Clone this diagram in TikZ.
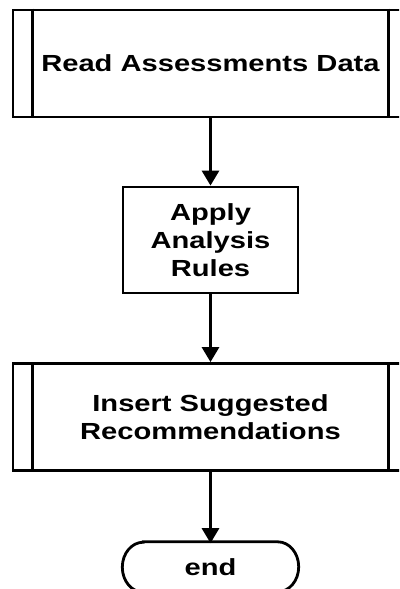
\documentclass[tikz,border=0pt]{standalone}
\usepackage{fontspec}
\usetikzlibrary{arrows.meta}
\newfontfamily\lblfont{Liberation Sans}[FakeStretch=1.25]
\tikzset{
  flow/.style={line width=2.8pt, black},
  lbl/.style={font=\lblfont\bfseries\fontsize{23.3}{28}\selectfont, align=center, inner sep=0pt},
  procbox/.style={flow, draw, lbl, minimum width=395pt, minimum height=107pt},
  stepbox/.style={flow, draw, lbl, minimum width=175pt, minimum height=106pt},
  termbox/.style={lbl, minimum width=176pt, minimum height=50pt},
  link/.style={flow, -{Triangle[width=17pt,length=15pt]}},
}
\begin{document}
\begin{tikzpicture}[x=1pt,y=-1pt]
  \useasboundingbox (0,0) rectangle (399,589);
  \clip (0,0) rectangle (399,589);
  \fill[white] (0,0) rectangle (399,589);

  % predefined process: read data
  \node[procbox] (read) at (210.5,63.5) {Read Assessments Data};
  \draw[flow] ([xshift=21pt]read.north west) -- ([xshift=21pt]read.south west);
  \draw[flow] ([xshift=-21pt]read.north east) -- ([xshift=-21pt]read.south east);

  % plain process step
  \node[stepbox] (apply) at (210.5,240) {Apply\\Analysis\\Rules};

  % predefined process: insert recommendations
  \node[procbox] (insert) at (210.5,417) {Insert Suggested\\Recommendations};
  \draw[flow] ([xshift=21pt]insert.north west) -- ([xshift=21pt]insert.south west);
  \draw[flow] ([xshift=-21pt]insert.north east) -- ([xshift=-21pt]insert.south east);

  % terminator
  \node[termbox] (end) at (210.5,567) {end};
  \draw[flow] ([xshift=21pt]end.north west) -- ([xshift=-21pt]end.north east)
    arc[start angle=90, end angle=-90, x radius=21pt, y radius=25pt]
    -- ([xshift=21pt]end.south west)
    arc[start angle=270, end angle=90, x radius=21pt, y radius=25pt] -- cycle;

  % connectors
  \draw[link] (read) -- (apply);
  \draw[link] (apply) -- (insert);
  \draw[link] (insert) -- ([yshift=-1.4pt]end.north);
\end{tikzpicture}
\end{document}
